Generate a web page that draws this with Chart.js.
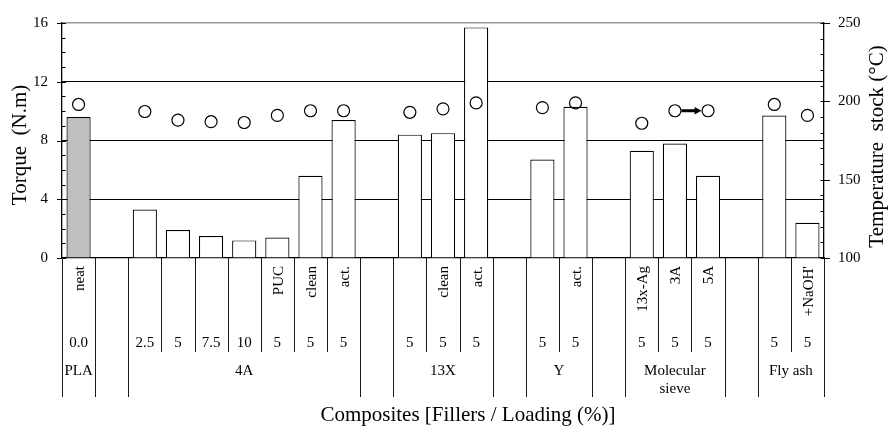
<!DOCTYPE html>
<html>
<head>
<meta charset="utf-8">
<script src="https://cdn.jsdelivr.net/npm/chart.js@4/dist/chart.umd.min.js"></script>
<style>
  html, body { margin: 0; padding: 0; background: #fff; }
  #wrap { width: 888px; height: 428px; }
</style>
</head>
<body>
<div id="wrap"><canvas id="c" width="888" height="428"></canvas></div>
<script>
// Sub-type written vertically under each column ('' = blank spacer column)
const fillerTypes = ['neat', '', '', '', '', '', 'PUC', 'clean', 'act.', '', '', 'clean', 'act.', '', '', 'act.', '', '13x-Ag', '3A', '5A', '', '', "+NaOH'"];
// Filler loading (%) row
const loadings = ['0.0', '', '2.5', '5', '7.5', '10', '5', '5', '5', '', '5', '5', '5', '', '5', '5', '', '5', '5', '5', '', '5', '5'];
// Filler families and the columns they span
const groupNames = ['PLA', '4A', '13X', 'Y', ['Molecular', 'sieve'], 'Fly ash'];
const groupFirst = [0, 2, 10, 14, 17, 21];
const groupLast  = [0, 8, 12, 15, 19, 22];
// Torque (N.m), bars
const torque = [9.6, null, 3.3, 1.9, 1.5, 1.2, 1.4, 5.6, 9.4, null, 8.4, 8.5, 15.7, null, 6.7, 10.3, null, 7.3, 7.8, 5.6, null, 9.7, 2.4];
// Stock temperature (°C), open circles
const tempStock = [198, null, 193.5, 188, 187, 186.5, 191, 194, 194, null, 193, 195.2, 199, null, 196, 199, null, 186, 194, 194, null, 198, 191];
// Axis tick values
const torqueTicks = [0, 4, 8, 12, 16];
const tempTicks = [100, 150, 200, 250];
// Arrow joining the 3A and 5A temperature points
const arrowFrom = 18, arrowTo = 19;

const SERIF = '"Liberation Serif", "Times New Roman", Times, serif';
Chart.defaults.font.family = SERIF;
Chart.defaults.color = '#000';

const frame = {
  id: 'frame',
  afterDatasetsDraw(chart) {
    const { ctx } = chart;
    const pts = chart.getDatasetMeta(1).data;
    const p = pts[arrowFrom], q = pts[arrowTo];
    const r = 6.5;
    const x0 = p.x + r, x1 = q.x - r, yy = (p.y + q.y) / 2;
    ctx.save();
    ctx.strokeStyle = '#000';
    ctx.fillStyle = '#000';
    ctx.lineWidth = 3;
    ctx.beginPath();
    ctx.moveTo(x0, yy);
    ctx.lineTo(x1 - 5, yy);
    ctx.stroke();
    ctx.beginPath();
    ctx.moveTo(x1, yy);
    ctx.lineTo(x1 - 7, yy - 3.8);
    ctx.lineTo(x1 - 7, yy + 3.8);
    ctx.closePath();
    ctx.fill();
    ctx.restore();
  },
  afterDraw(chart) {
    const { ctx, chartArea: a, scales: { x, y, y2 } } = chart;
    const n = fillerTypes.length;
    const slot = (a.right - a.left) / n;
    ctx.save();
    ctx.strokeStyle = '#000';
    ctx.fillStyle = '#000';

    // Axis tick marks: majors straddle the axis, minors point into the plot
    ctx.lineWidth = 1.1;
    ctx.beginPath();
    for (let v = torqueTicks[0]; v <= torqueTicks[torqueTicks.length - 1]; v += 1) {
      const py = Math.round(y.getPixelForValue(v)) + 0.5;
      const major = torqueTicks.includes(v);
      ctx.moveTo(a.left - (major ? 5 : 0), py);
      ctx.lineTo(a.left + (major ? 4 : 3.5), py);
    }
    for (let v = tempTicks[0]; v <= tempTicks[tempTicks.length - 1]; v += 10) {
      const py = Math.round(y2.getPixelForValue(v)) + 0.5;
      const major = tempTicks.includes(v);
      ctx.moveTo(a.right - 3.5, py);
      ctx.lineTo(a.right + (major ? 6 : 0), py);
    }
    ctx.stroke();

    // Table rules under the axis: full height between families, short inside a family
    const groupOf = new Array(n).fill(-1);
    groupFirst.forEach((f, g) => { for (let i = f; i <= groupLast[g]; i++) groupOf[i] = g; });
    ctx.lineWidth = 1;
    ctx.strokeStyle = '#1a1a1a';
    ctx.beginPath();
    for (let k = 0; k <= n; k++) {
      const px = Math.round(a.left + k * slot) + 0.5;
      const inner = k > 0 && k < n && groupOf[k - 1] !== -1 && groupOf[k - 1] === groupOf[k];
      ctx.moveTo(px, a.bottom);
      ctx.lineTo(px, a.bottom + (inner ? 94 : 139));
    }
    ctx.stroke();

    // Column texts
    ctx.font = '15px ' + SERIF;
    fillerTypes.forEach((t, i) => {
      if (!t) return;
      ctx.save();
      ctx.translate(x.getPixelForValue(i) + 1.5, a.bottom + 8);
      ctx.rotate(-Math.PI / 2);
      ctx.textAlign = 'right';
      ctx.textBaseline = 'middle';
      ctx.fillText(t, 0, 0);
      ctx.restore();
    });
    ctx.textAlign = 'center';
    ctx.textBaseline = 'middle';
    loadings.forEach((t, i) => {
      if (t) ctx.fillText(t, x.getPixelForValue(i), a.bottom + 85.5);
    });
    groupNames.forEach((g, k) => {
      const cx = (x.getPixelForValue(groupFirst[k]) + x.getPixelForValue(groupLast[k])) / 2;
      [].concat(g).forEach((line, j) => ctx.fillText(line, cx, a.bottom + 113.5 + j * 18));
    });

    // Axis titles
    ctx.font = '21px ' + SERIF;
    ctx.save();
    ctx.translate(a.left - 41.5, 145);
    ctx.rotate(-Math.PI / 2);
    ctx.fillText('Torque  (N.m)', 0, 0);
    ctx.restore();
    ctx.save();
    ctx.translate(a.right + 53, 146.5);
    ctx.rotate(-Math.PI / 2);
    ctx.fillText('Temperature  stock (°C)', 0, 0);
    ctx.restore();
    ctx.fillText('Composites [Fillers / Loading (%)]', (a.left + a.right) / 2 + 25, a.bottom + 157);
    ctx.restore();
  }
};

new Chart(document.getElementById('c'), {
  data: {
    labels: fillerTypes.map((t, i) => (t || '') + ' ' + loadings[i]),
    datasets: [
      {
        type: 'bar',
        data: torque,
        yAxisID: 'y',
        order: 1,
        backgroundColor: ctx => ctx.dataIndex === groupFirst[0] ? '#bfbfbf' : '#ffffff',
        borderColor: '#000',
        borderWidth: 1.2,
        barPercentage: 0.73,
        categoryPercentage: 1.0
      },
      {
        type: 'line',
        data: tempStock,
        yAxisID: 'y2',
        order: 0,
        showLine: false,
        pointStyle: 'circle',
        pointRadius: 6,
        pointBorderWidth: 1.2,
        pointBorderColor: '#000',
        pointBackgroundColor: 'rgba(0,0,0,0)'
      }
    ]
  },
  options: {
    responsive: false,
    animation: false,
    devicePixelRatio: 1,
    layout: { padding: { top: 20, left: 0, right: 0, bottom: 0 } },
    plugins: { legend: { display: false }, tooltip: { enabled: false } },
    scales: {
      x: {
        type: 'category',
        offset: true,
        grid: { display: false },
        border: { display: true, color: '#000', width: 1.3 },
        ticks: { display: false },
        afterFit: s => { s.height = 170; }
      },
      y: {
        position: 'left',
        min: torqueTicks[0],
        max: torqueTicks[torqueTicks.length - 1],
        afterBuildTicks: s => { s.ticks = torqueTicks.map(v => ({ value: v })); },
        grid: {
          drawTicks: false,
          color: c => c.tick.value === torqueTicks[torqueTicks.length - 1] ? '#999' : (c.tick.value === torqueTicks[0] ? 'rgba(0,0,0,0)' : '#000'),
          lineWidth: c => c.tick.value === torqueTicks[torqueTicks.length - 1] ? 1.6 : 1
        },
        border: { display: true, color: '#000', width: 1.3 },
        ticks: { padding: 14, font: { size: 15, family: SERIF }, color: '#000' },
        afterFit: s => { s.width = 62; }
      },
      y2: {
        position: 'right',
        min: tempTicks[0],
        max: tempTicks[tempTicks.length - 1],
        afterBuildTicks: s => { s.ticks = tempTicks.map(v => ({ value: v })); },
        grid: { drawOnChartArea: false, drawTicks: false },
        border: { display: true, color: '#000', width: 1.3 },
        ticks: { padding: 14, font: { size: 15, family: SERIF }, color: '#000' },
        afterFit: s => { s.width = 64; }
      }
    }
  },
  plugins: [frame]
});
</script>
</body>
</html>
